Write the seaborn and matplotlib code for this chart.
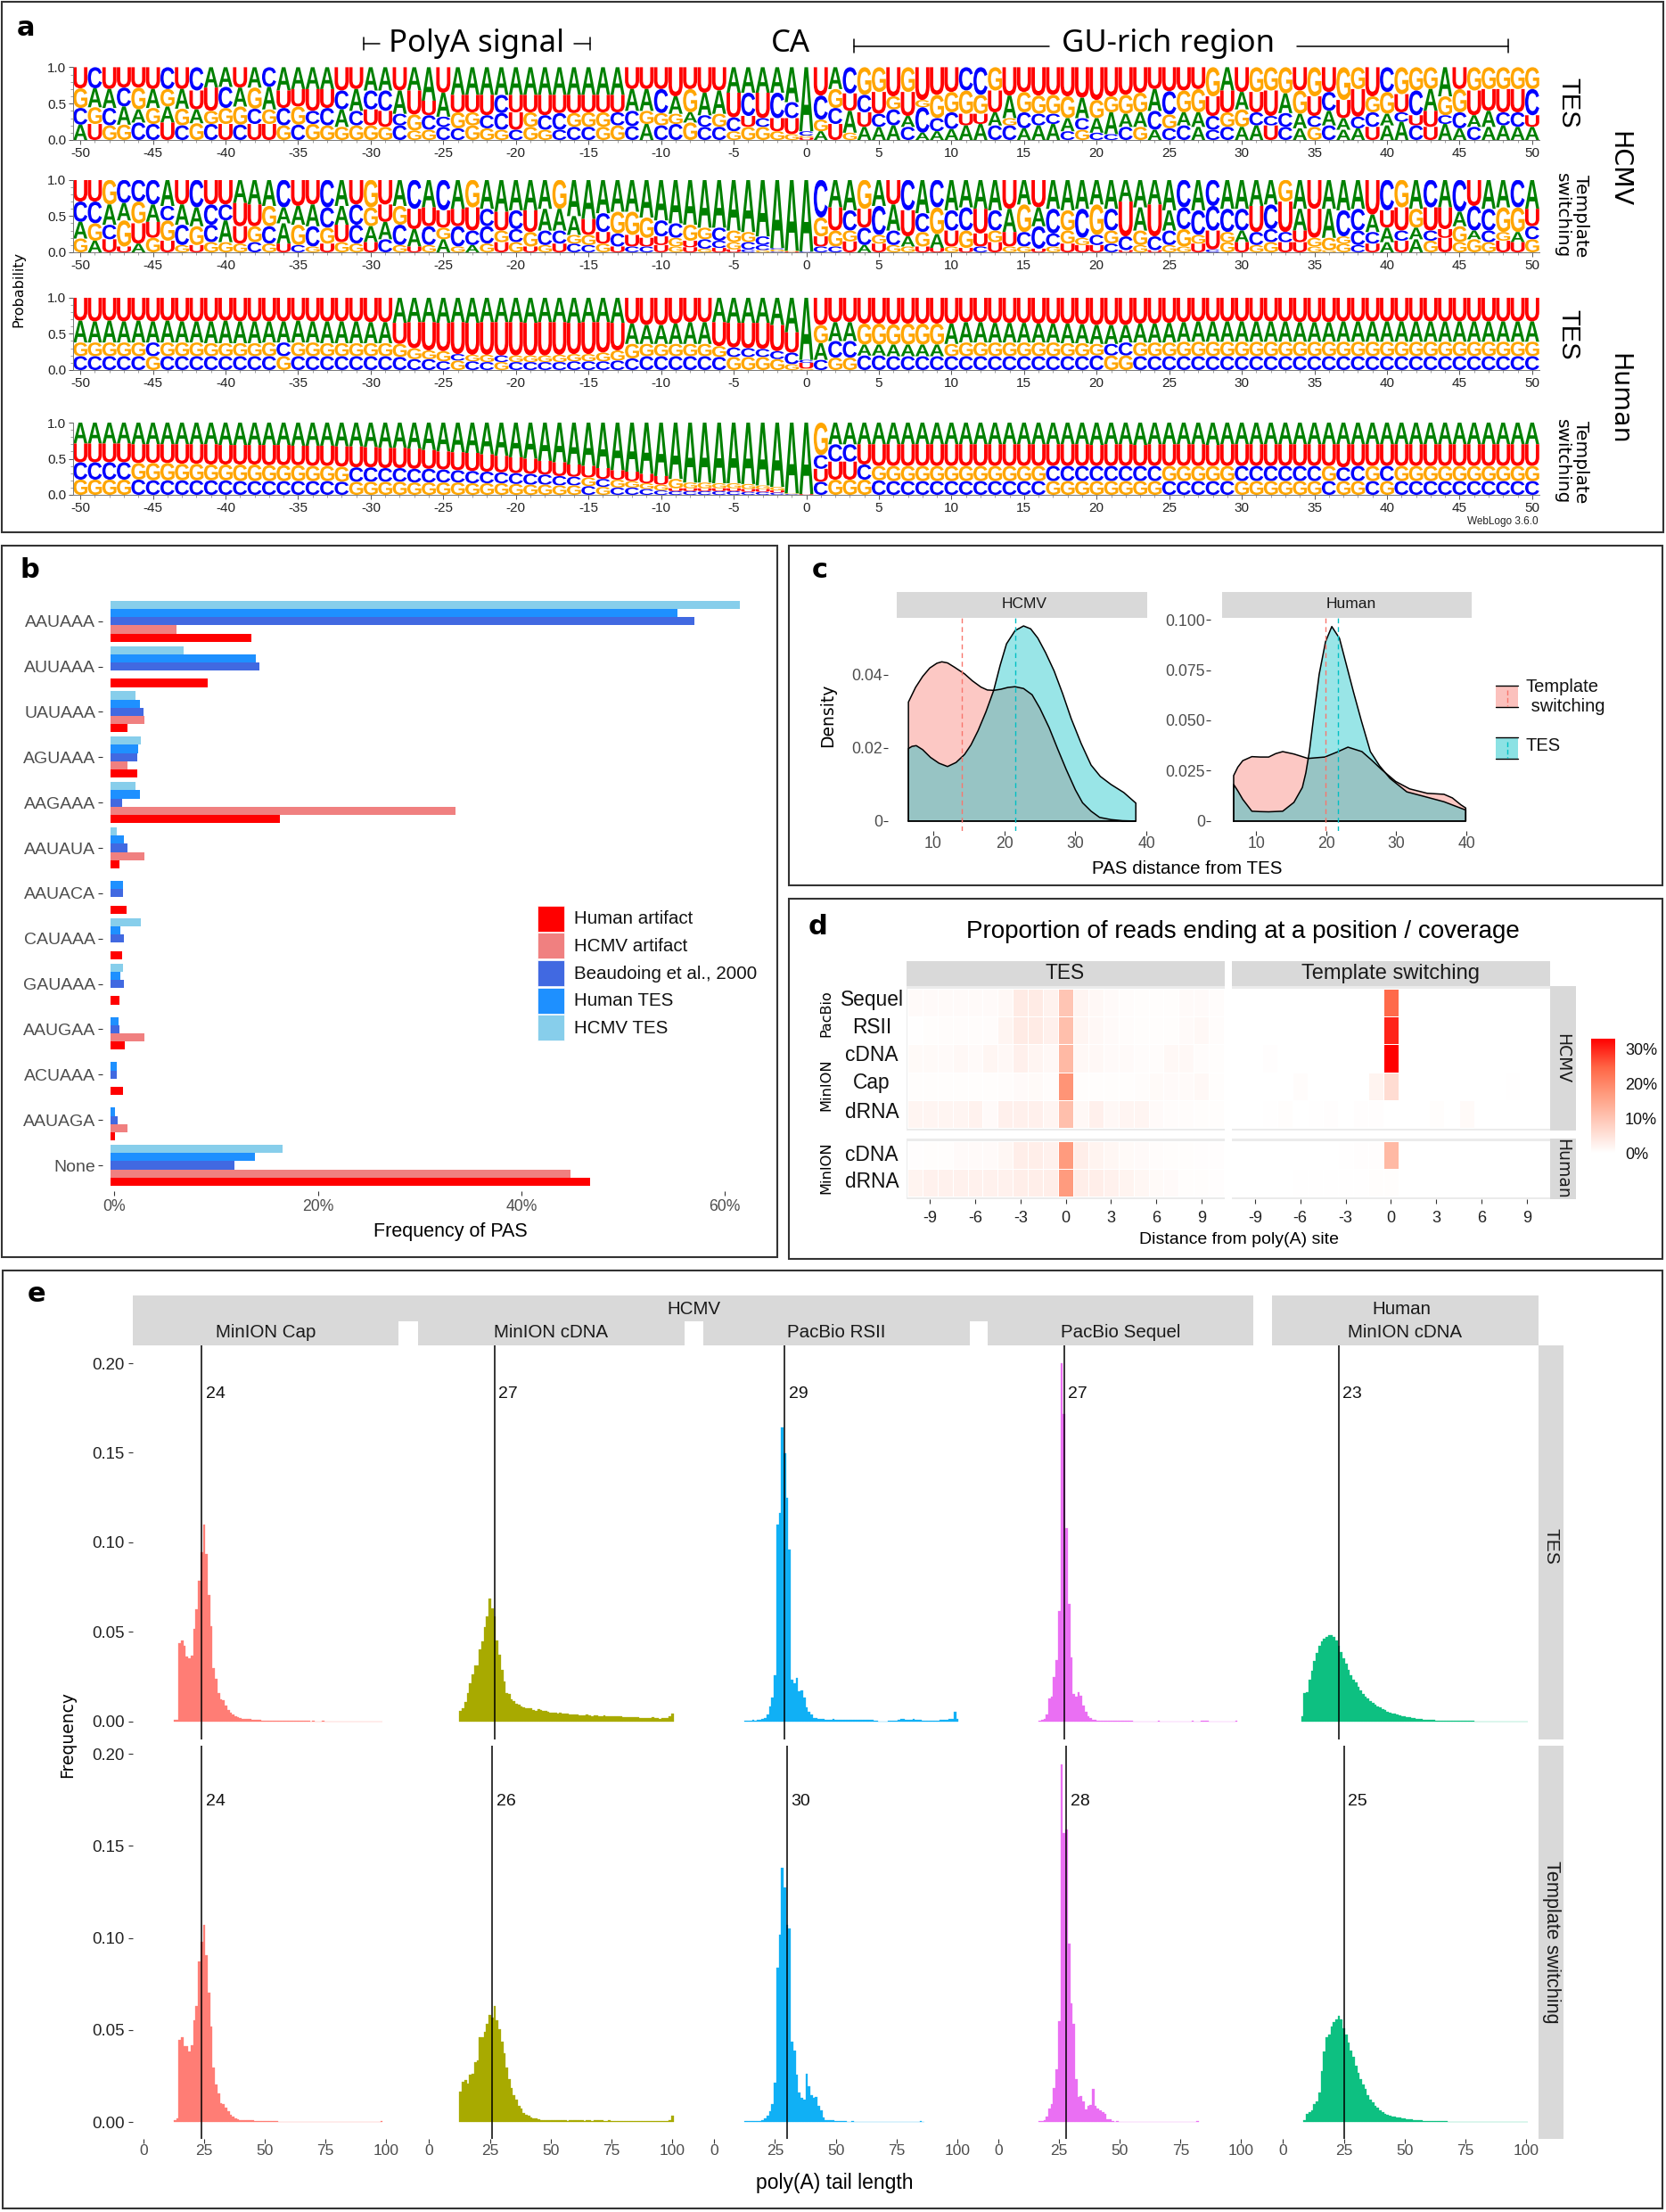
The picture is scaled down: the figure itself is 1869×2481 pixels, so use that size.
#!/usr/bin/env python3
"""Sequence logos, PAS frequency, PAS distance, read-end heatmap and poly(A) tail panels."""

import numpy as np
import pandas as pd
import matplotlib
matplotlib.use("Agg")
import matplotlib.pyplot as plt
import seaborn as sns
from matplotlib.colors import LinearSegmentedColormap
from matplotlib.font_manager import FontProperties
from matplotlib.patches import PathPatch, Rectangle
from matplotlib.textpath import TextPath
from matplotlib.transforms import Affine2D

W, H = 1869, 2481

# ---- panel a: letters per rank (top of the stack first), positions -50..50
R1_RANK1 = "UCUUUUCUC" + "AAUAC" + "AAAA" + "UU" + "AA" + "U" + "AA" + "U" + "A" * 12 + "U" * 7 + "A" * 6 + "UACGGUGUUUCCG" + "U" * 14 + "GAUGGGUGUGGUCGGGAUGGGGG"
R1_RANK2 = "GAACGAGAUU" + "CAGAUUUUCA" + "CCAUUA" + "UUUCUUUUUUUU" + "AACAGAAUCUC" + "CC" + "C" + "GUCUGUGGGG" + "GUAGGGGAGG" + "GGACGGUUAU" + "UAGUCUUGGU" + "CAGGUUUUC"
R1_RANK3 = "CGCAAGAGAG" + "GGCGCGCCAC" + "UUCGCCGGCC" + "UGCCGGGCCG" + "GGACG" + "CUCUUG" + "G" + "CAUCCACCCU" + "UAGCCCACAA" + "AACGAACGGC" + "CCACAACCAC" + "UUCCAACCU"
R1_RANK4 = "AUGGCCUCGC" + "UCUUGCGGGG" + "GGCGGCCGGG" + "CGGCCCGGCA" + "CCGCCGGGGG" + "U" + "A" + "UGAAACAAAA" + "ACCAAACGCC" + "CGACCACCAA" + "UCAGCAAUAA" + "CUAACAAAA"

R2_RANK1 = "UUGCCCAUCU" + "UAAACUUCAU" + "GUACACAGAA" + "AAAG" + "A" * 17 + "CAAGAUCAC" + "AAAA" + "UAU" + "A" * 9 + "CAC" + "AAAA" + "GAU" + "AAA" + "UCGACACUAACA"
R2_RANK2 = "CCAAGACAAC" + "CUUGAAACAC" + "GUGUUUUUCU" + "CUAAAUCGGG" + "CCGGCGGCCG" + "G" + "G" + "UCUCAUCGCC" + "UCAGACGCGC" + "UAUACCCCCU" + "CUAUACCAUU" + "GUUACCGGU"
R2_RANK3 = "AGCGUUGCGC" + "AUGCAGCGUC" + "AACACGCCCG" + "CGCCGGUCUU" + "UGUCCGCCGU" + "C" + "U" + "GGCGCAGAUG" + "UGUCCCGGCG" + "CGCCGGUGAC" + "CCUGGGCCAC" + "ACUGACGAC"
R2_RANK4 = "GAUUAGUGUG" + "GGCGUCGUGG" + "UCGUGAGAGU" + "GUGUCCGUCC" + "UGUGUUCGCC" + "G" + "C" + "CUAUGGUUGU" + "CUGGUGUUUC" + "UGUGGUCGUG" + "GUUGGGCUAU" + "AGUGGGUUG"

R3_RANK1 = "U" * 22 + "A" * 16 + "U" * 6 + "A" * 7 + "U" * 50
R3_RANK2 = "A" * 22 + "U" * 16 + "A" * 6 + "U" * 6 + "C" + "G" + "AA" + "G" * 6 + "A" * 41
R3_RANK3 = "GGGGGC" + "G" * 8 + "C" + "G" * 11 + "C" + "GGC" + "G" * 15 + "C" * 5 + "U" + "A" + "CC" + "A" * 6 + "G" * 11 + "CC" + "G" * 28
R3_RANK4 = "CCCCCG" + "C" * 8 + "G" + "C" * 11 + "G" + "CCG" + "C" * 15 + "G" * 6 + "C" + "GG" + "C" * 17 + "GG" + "C" * 28

R4_RANK1 = "A" * 51 + "G" + "A" * 49
R4_RANK2 = "U" * 41 + "G" * 10 + "CCC" + "U" * 47
R4_RANK3 = "C" * 4 + "G" * 15 + "C" * 16 + "GC" + "GGGG" + "U" * 10 + "UUU" + "C" + "G" * 12 + "C" * 8 + "G" * 5 + "C" * 6 + "G" + "CC" + "G" + "C" + "G" * 10
R4_RANK4 = "G" * 4 + "C" * 15 + "G" * 16 + "CG" + "CCCC" + "C" * 10 + "C" + "GGG" + "C" * 12 + "G" * 8 + "C" * 5 + "G" * 6 + "C" + "GG" + "C" + "G" + "C" * 10

# cumulative probability (%) under rank 1, rank 2 and rank 3
R1_B2 = [71, 71, 70, 72, 72, 70, 70, 70, 68, 72, 73, 72, 72, 73, 68, 70, 70, 70, 68, 70, 68, 68, 68, 68, 54, 65, 62, 62, 62, 62, 62, 62, 62, 62, 62, 62, 62, 62, 70, 70, 70, 60, 70, 65, 68, 65, 65, 65, 65, 52, 12,
         61, 70, 64, 62, 66, 60, 66, 55, 62, 66, 68, 62, 68, 61, 66, 61, 62, 60, 58, 55, 60, 62, 65, 70, 67, 68, 70, 60, 68, 66, 66, 68, 64, 68, 60, 66, 55, 70, 60, 66, 63, 68, 70, 60, 70, 68, 70, 70, 70, 70]
R1_B3 = [44, 45, 44, 46, 42, 44, 46, 43, 42, 40, 44, 46, 43, 42, 44, 46, 40, 44, 42, 40, 42, 40, 36, 35, 34, 32, 38, 38, 34, 37, 38, 38, 34, 37, 37, 38, 38, 38, 40, 40, 37, 36, 38, 34, 36, 31, 33, 30, 30, 30, 6,
         28, 44, 40, 38, 36, 42, 33, 45, 30, 38, 36, 36, 38, 30, 38, 36, 36, 30, 30, 30, 38, 36, 38, 40, 35, 38, 38, 33, 38, 42, 38, 33, 37, 36, 33, 40, 30, 32, 38, 36, 38, 34, 40, 34, 38, 34, 40, 38, 38, 34]
R1_B4 = [21, 22, 20, 21, 24, 22, 24, 20, 23, 22, 22, 21, 22, 22, 20, 21, 22, 20, 18, 20, 20, 18, 20, 13, 14, 18, 16, 20, 16, 14, 14, 18, 14, 14, 18, 18, 18, 20, 19, 22, 20, 22, 24, 18, 18, 12, 18, 18, 12, 8, 3,
         12, 22, 10, 18, 18, 20, 18, 10, 12, 15, 20, 22, 20, 20, 16, 20, 22, 12, 14, 10, 8, 18, 18, 14, 16, 20, 18, 14, 18, 18, 20, 20, 18, 16, 18, 20, 14, 16, 18, 20, 25, 20, 18, 22, 16, 18, 18, 20, 18, 18]

R2_B2 = [70, 70, 66, 68, 70, 66, 64, 66, 62, 66, 66, 68, 66, 64, 62, 64, 66, 62, 64, 66, 62, 66, 64, 60, 62, 58, 60, 62, 60, 56, 58, 58, 60, 60, 50, 46, 54, 56, 56, 48, 44, 40, 38, 34, 34, 30, 28, 22, 6, 2, 1,
         48, 62, 58, 60, 64, 66, 58, 54, 62, 58, 62, 60, 58, 60, 66, 62, 60, 58, 60, 66, 60, 70, 62, 66, 58, 62, 58, 64, 60, 60, 64, 66, 70, 60, 60, 60, 58, 60, 52, 58, 62, 60, 62, 62, 56, 64, 60, 62, 62, 60]
R2_B3 = [42, 40, 38, 44, 40, 42, 44, 38, 36, 38, 44, 36, 36, 36, 40, 38, 36, 34, 38, 38, 36, 42, 38, 32, 36, 34, 36, 30, 36, 30, 32, 28, 30, 30, 24, 24, 28, 26, 24, 20, 22, 20, 16, 18, 16, 14, 14, 10, 4, 1, 1,
         22, 30, 30, 34, 24, 30, 22, 28, 25, 30, 30, 26, 30, 28, 28, 36, 26, 30, 20, 24, 30, 22, 30, 22, 30, 32, 24, 30, 28, 30, 28, 32, 28, 30, 20, 20, 22, 30, 28, 34, 30, 34, 30, 32, 36, 30, 30, 28, 28, 36]
R2_B4 = [19, 16, 18, 8, 12, 20, 16, 10, 10, 14, 14, 12, 14, 12, 12, 10, 8, 12, 14, 12, 14, 18, 10, 8, 10, 18, 8, 10, 12, 14, 14, 8, 10, 12, 12, 10, 12, 8, 8, 8, 10, 8, 7, 5, 6, 4, 4, 3, 1, 0, 0,
         8, 8, 15, 10, 12, 10, 8, 8, 6, 8, 6, 8, 14, 8, 8, 5, 8, 12, 10, 10, 12, 3, 10, 3, 10, 8, 12, 4, 14, 14, 10, 14, 14, 14, 8, 3, 12, 10, 12, 14, 16, 18, 16, 20, 14, 18, 14, 16, 14, 18]

R3_B2 = [68, 67, 68, 67, 68, 67, 68, 67, 67, 67, 68, 67, 67, 67, 67, 68, 67, 67, 67, 67, 66, 66, 65, 66, 66, 65, 66, 65, 66, 66, 66, 65, 66, 66, 65, 66, 66, 65, 64, 62, 62, 64, 66, 66, 66, 65, 65, 65, 62, 52, 14,
         62, 66, 66, 64, 64, 63, 64, 64, 64, 64, 66, 66, 65, 65, 65, 64, 64, 64, 63, 62, 62, 62, 64, 64, 65, 66, 67, 67, 67, 67, 67, 67, 67, 66, 66, 66, 67, 67, 67, 67, 67, 67, 67, 67, 67, 67, 67, 67, 67, 67]
R3_B3 = [38, 38, 38, 38, 38, 38, 38, 38, 38, 37, 37, 37, 37, 38, 38, 38, 38, 37, 37, 37, 37, 37, 36, 30, 27, 26, 22, 21, 21, 20, 20, 20, 20, 21, 22, 22, 24, 27, 36, 36, 36, 36, 36, 36, 33, 31, 30, 29, 26, 24, 10,
         37, 40, 40, 35, 35, 35, 35, 35, 35, 36, 38, 38, 38, 38, 38, 38, 38, 37, 37, 36, 36, 38, 38, 38, 38, 39, 39, 39, 39, 39, 39, 39, 39, 39, 39, 39, 39, 39, 39, 39, 39, 39, 39, 39, 39, 39, 39, 39, 39, 39]
R3_B4 = [19, 19, 19, 19, 19, 19, 19, 19, 19, 19, 19, 19, 19, 19, 19, 19, 19, 19, 19, 19, 19, 19, 18, 15, 15, 12, 13, 12, 11, 11, 11, 11, 11, 11, 12, 12, 12, 13, 16, 19, 19, 19, 19, 19, 18, 18, 18, 18, 15, 8, 2,
         14, 17, 17, 20, 20, 19, 19, 19, 19, 19, 19, 19, 19, 19, 19, 19, 19, 19, 19, 20, 20, 20, 19, 19, 19, 19, 19, 19, 19, 19, 19, 19, 19, 19, 19, 19, 19, 19, 19, 19, 19, 19, 19, 19, 19, 19, 19, 19, 19, 19]

R4_B2 = [71, 71, 71, 71, 70, 70, 70, 70, 70, 70, 69, 69, 69, 69, 69, 68, 68, 68, 67, 67, 66, 65, 65, 64, 62, 60, 59, 58, 56, 54, 52, 50, 47, 45, 42, 40, 37, 34, 32, 29, 26, 22, 17, 17, 16, 16, 15, 13, 11, 2, 1,
         55, 70, 70, 70, 70, 70, 70, 70, 70, 70, 70, 70, 70, 70, 70, 70, 70, 70, 70, 69, 70, 70, 69, 70, 70, 70, 70, 69, 70, 70, 70, 70, 70, 70, 70, 70, 70, 70, 70, 70, 70, 70, 70, 70, 70, 70, 70, 70, 70, 70]
R4_B3 = [45, 45, 45, 45, 44, 44, 44, 43, 43, 42, 42, 42, 42, 41, 41, 41, 40, 40, 39, 38, 38, 37, 37, 36, 36, 35, 34, 33, 32, 31, 30, 29, 28, 26, 25, 24, 22, 21, 19, 16, 14, 9, 9, 9, 9, 9, 8, 8, 6, 1, 1,
         36, 46, 46, 42, 40, 40, 40, 40, 40, 40, 40, 40, 40, 40, 40, 40, 40, 40, 40, 40, 40, 40, 40, 40, 40, 40, 40, 40, 40, 40, 40, 40, 40, 40, 40, 40, 38, 40, 40, 40, 40, 40, 40, 40, 40, 40, 40, 40, 40, 40]
R4_B4 = [21, 21, 21, 21, 21, 20, 20, 20, 20, 20, 20, 19, 19, 19, 19, 19, 19, 19, 18, 18, 18, 18, 18, 17, 17, 17, 17, 16, 16, 16, 15, 14, 14, 13, 13, 12, 11, 10, 10, 8, 6, 5, 5, 5, 5, 5, 4, 4, 3, 1, 0,
         18, 21, 21, 21, 20, 19, 19, 19, 19, 19, 19, 19, 19, 19, 19, 19, 19, 19, 19, 19, 19, 19, 19, 19, 19, 19, 19, 19, 19, 19, 19, 19, 19, 19, 19, 19, 19, 19, 19, 19, 19, 19, 19, 19, 19, 19, 19, 19, 19, 19]

# ---- panel b
PAS_MOTIFS = ["AAUAAA", "AUUAAA", "UAUAAA", "AGUAAA", "AAGAAA", "AAUAUA", "AAUACA", "CAUAAA", "GAUAAA", "AAUGAA", "ACUAAA", "AAUAGA", "None"]
PAS_HCMV_TES = [61.6, 7.2, 2.45, 3.0, 2.45, 0.6, 0, 3.0, 1.2, 0, 0, 0, 16.8]
PAS_HUMAN_TES = [55.5, 14.2, 2.9, 2.75, 2.85, 1.3, 1.2, 1.0, 1.0, 0.75, 0.6, 0.4, 14.1]
PAS_BEAUDOING = [57.1, 14.6, 3.2, 2.65, 1.1, 1.7, 1.2, 1.3, 1.3, 0.85, 0.6, 0.7, 12.1]
PAS_HCMV_ART = [6.45, 0, 3.3, 1.65, 33.8, 3.3, 0, 0, 0, 3.3, 0, 1.65, 45.0]
PAS_HUMAN_ART = [13.8, 9.5, 1.7, 2.6, 16.6, 0.9, 1.6, 1.1, 0.9, 1.4, 1.2, 0.4, 46.9]

# ---- panel c
C_HCMV_TS_X = [6.5, 7.5, 8.5, 9.5, 10.5, 11.2, 12, 13, 14.4, 15.5, 16.7, 17.6, 18.5, 19.5, 20.5, 21.5, 22.7, 23.9, 25, 26.3, 27.5, 28.7, 30, 31, 32.2, 33.4, 35, 36.6, 38.5]
C_HCMV_TS_Y = [.0325, .0365, .0395, .0418, .0431, .0435, .0432, .042, .0402, .0383, .0366, .0358, .0357, .036, .0365, .0367, .0362, .0345, .0308, .0255, .0197, .0141, .0085, .005, .0027, .001, .0004, .0001, 0]
C_HCMV_TES_X = [6.5, 7, 7.6, 8.5, 9.6, 10.8, 12, 13.2, 14.4, 15.3, 16.3, 17.4, 18.5, 19.4, 20.3, 21.5, 22.7, 23.7, 24.7, 25.8, 27, 28.2, 29.4, 30.8, 32.2, 33.5, 35, 36.8, 38.5]
C_HCMV_TES_Y = [.0198, .0204, .0206, .0195, .0174, .0158, .0149, .016, .0182, .0208, .0247, .0298, .0357, .0425, .0484, .052, .0533, .0525, .05, .046, .041, .0348, .028, .0212, .0153, .0122, .01, .0078, .0049]
C_HUMAN_TS_X = [6.8, 7.4, 8.1, 9.4, 10.6, 11.8, 12.8, 13.8, 15.4, 17.4, 19.8, 21.5, 23.1, 25.1, 26.5, 27.9, 29.9, 31.9, 34.4, 36.8, 38, 39.2, 39.9]
C_HUMAN_TS_Y = [.0226, .0268, .03, .032, .0318, .0318, .0335, .0345, .0333, .0311, .0318, .0342, .0367, .0345, .0302, .0256, .0197, .016, .0138, .0133, .0115, .0081, .0065]
C_HUMAN_TES_X = [6.8, 7.4, 8.1, 9.4, 10.6, 11.8, 13.8, 15.4, 16.6, 17.1, 17.6, 18.3, 19, 19.9, 20.8, 21.9, 23, 23.9, 25, 26.3, 27.6, 29.1, 31.5, 33.9, 36.8, 39.2, 39.9]
C_HUMAN_TES_Y = [.0182, .015, .0108, .0049, .0047, .0046, .0049, .0093, .0167, .024, .0345, .054, .0729, .089, .0966, .0907, .076, .064, .05, .0345, .0275, .0212, .0145, .0123, .0096, .0064, .0055]
C_MEDIANS = {"HCMV": (14.05, 21.5), "Human": (19.85, 21.7)}

# ---- panel d, values in % for positions -10..10
HM_POS = list(range(-10, 11))
TES_SEQUEL = [.8, .8, .8, .8, .8, .8, 1.2, 3.5, 3.5, 2.2, 10, 1.8, 1.2, .8, .6, .4, .4, .4, .8, .8, .6]
TES_RSII = [.2, .5, .6, .6, .6, .6, 1.8, 3.5, 3.5, 2.6, 11, 1.8, 1.2, .8, .6, .4, .4, .4, .8, 1.2, .6]
TES_CDNA = [1, 1, .8, 1.2, .8, 1.6, 1.2, 2.6, 1.8, 1.2, 12, 1.2, 1.2, .8, .8, .6, .6, 1.2, 1.2, .6, .4]
TES_CAP = [.4, .4, .4, .4, .4, .5, .6, .8, 1, .6, 18, .4, .4, .4, .4, .6, 1, .8, .8, 1.2, .4]
TES_DRNA = [1.8, 1.8, 1.8, 1.8, 2.2, .8, 2.6, 2.6, 2.6, 1.8, 11, 1.2, 2.6, 1.2, 1.8, 1.8, .8, .6, .6, .5, .4]
TES_H_CDNA = [.3, .4, .5, .8, .8, .9, 1.5, 3, 3, 2.5, 17, 3, 2, 1.5, 1, .8, .6, .5, .4, .3, .3]
TES_H_DRNA = [2, 2.5, 2.5, 2.5, 2.5, 2.5, 2.5, 3, 3, 3, 17, 3, 3, 2.5, 2, 1.5, 1, .8, .5, .4, .3]
TS_SEQUEL = [0, 0, 0, 0, 0, 0, 0, 0, 0, 0, 24, 0, 0, 0, 0, 0, 0, 0, 0, 0, 0]
TS_RSII = [0, 0, 0, 0, 0, 0, 0, 0, 0, 0, 30, 0, 0, 0, 0, 0, 0, 0, 0, 0, 0]
TS_CDNA = [0, 0, .3, 0, 0, 0, 0, 0, 0, 0, 33, 0, 0, 0, 0, 0, 0, 0, 0, 0, 0]
TS_CAP = [0, 0, 0, 0, .6, 0, 0, 0, 0, 2, 6, 0, 0, 0, 0, 0, 0, 0, .2, 0, 0]
TS_DRNA = [0, .1, .2, .5, .1, .2, .3, .1, .3, .3, .1, .1, .1, .4, .1, 1, 0, 0, 0, 0, 0]
TS_H_CDNA = [0, 0, 0, 0, 0, 0, 0, .2, .3, .3, 12, 0, 0, 0, 0, 0, 0, 0, 0, 0, 0]
TS_H_DRNA = [0, 0, 0, 0, .2, .2, .2, .2, .2, .5, .5, 0, 0, 0, 0, 0, 0, 0, 0, 0, 0]
HM_TICKS = [-9, -6, -3, 0, 3, 6, 9]

# ---- panel e, bin values start at the named first bin
CAP_TES_FIRST = 13
CAP_TES = [.001, .001, .0436, .0454, .0424, .036, .0352, .0365, .0516, .0626, .0786, .0947, .11, .0934, .0705, .053, .0297, .0237, .016, .0125, .0116, .0089, .0062, .005, .0039, .003, .0025, .002, .0015, .0014, .0012, .0012, .001, .0009, .0008, .0007, .0006, .0006,
           .0005, .0005, .0004, .0004, .0003, .0003, .0003, .0003, .0002, .0002, .0002, .0002, .0002, .0002, .0002, .0002, .0002, .0002, .0001, .0002, .0001, .0001, .0001, .0002, .0001, .0001, .0001, .0001, .0001, .0001, .0001, .0001, .0001, .0001, .0001, .0001, 0, .0001, .0001, 0, .0001, .0001, 0, .0001, 0, .0001, 0, .0001]
CDNA_TES_FIRST = 13
CDNA_TES = [.0059, .0075, .0107, .016, .0214, .0262, .0311, .0311, .04, .0445, .0525, .0587, .0685, .0632, .0587, .0454, .0374, .0285, .0222, .016, .0151, .0125, .0112, .0098, .0093, .0085, .0078, .0075, .0071, .0071, .0062, .006, .0068,
            .0062, .0058, .0056, .0052, .005, .005, .0046, .0045, .0046, .0044, .0042, .0043, .004, .0038, .0037, .0036, .0035, .0034, .0033, .0036, .0032, .003, .0034, .0032, .003, .0028, .0031, .0029, .0027, .0026, .0026, .0028, .0027, .0026, .0024, .0024, .0023, .0024, .0022, .0022, .0024, .0021, .002, .002, .0019, .0019, .0022, .0019, .0017, .0016, .0017, .002, .002, .0028, .0045]
RSII_TES_FIRST = 13
RSII_TES = [.0005, .0005, .0006, .0007, .0006, .0008, .001, .0012, .002, .004, .0085, .0133, .0258, .11, .1165, .164, .1495, .1246, .0961, .0231, .0214, .0244, .0169, .0173, .0133, .008, .0053, .0036, .0021, .0018, .0014,
            .0012, .0012, .0011, .001, .0011, .0012, .001, .001, .0011, .001, .0009, .001, .001, .0009, .0009, .0008, .0008, .0009, .0008, .0007, .0008, .0008, .0006, .0005, 0, 0, 0, 0,
            .0004, .0006, .0005, .0006, .0007, .0012, .0012, .001, .0008, .001, .0012, .001, .001, .0008, .0006, .0005, .0005, .0006, .0005, .0005, .0006, .0007, .0007, .0008, .001, .0012, .0015, .0053, .0015]
SEQUEL_TES_FIRST = 17
SEQUEL_TES = [.0005, .0008, .0015, .0036, .0128, .0139, .0246, .0342, .0614, .2, .1717, .1077, .0658, .0356, .0151, .0139, .0164, .0142, .0089, .0053, .0027, .0018, .0011, .0009, .0006, .0006, .0005, .0005, .0004, .0004, .0004, .0003, .0003, .0003, .0003, .0003, .0002, .0002, .0002,
              0, 0, 0, 0, 0, 0, 0, 0, 0, 0, .0002, 0, 0, 0, 0, 0, 0, 0, 0, 0, 0, 0, 0, 0, .0002, 0, 0, 0, .0003, .0003, .0002, 0, 0, 0, 0, 0, 0, 0, 0, 0, 0, 0, .0003]
HUMAN_TES_FIRST = 8
HUMAN_TES = [.0027, .016, .0165, .0235, .028, .0335, .038, .042, .0445, .046, .047, .048, .048, .047, .045, .042, .0385, .035, .032, .0285, .0258, .0235, .022, .0195, .0175, .0155, .014, .0127, .0113, .0102, .0095, .0085, .0076, .0069, .0062, .0055, .005, .0045, .0041, .0036, .0033, .003, .0027, .0025, .0022, .002, .0018, .0016, .0014, .0012, .0011, .001, .0009, .0007, .0007, .0006, .0005, .0005, .0004, .0004, .0004, .0003, .0003, .0003, .0003, .0002, .0002, .0002, .0002, .0002, .0002, .0001, .0001, .0001, .0001, .0001, .0001, .0001, .0001, .0001, .0001, .0001, .0001, .0001, .0001, .0001, .0001, .0001, .0001, .0001, .0001, .0001, .0001]

CAP_TS_FIRST = 13
CAP_TS = [.0011, .002, .0445, .0461, .0413, .0413, .0385, .0416, .055, .0631, .0874, .0979, .1073, .0906, .0704, .0518, .0294, .0202, .0154, .01, .0097, .0076, .0057, .004, .003, .002, .0015, .0012, .0012, .001, .0009, .0008, .0008, .0007, .0006, .0006, .0005, .0005, .0004,
          .0004, .0003, .0003, .0003, .0002, .0002, .0002, .0002, .0002, .0002, .0002, .0001, .0002, .0001, .0001, .0001, .0001, .0001, .0001, .0001, .0001, 0, .0001, .0001, 0, 0, .0001, 0, .0001, 0, .0001, 0, .0001, 0, .0001, 0, 0, .0001, 0, 0, 0, 0, 0, 0, 0, 0, .0004]
CDNA_TS_FIRST = 13
CDNA_TS = [.0167, .0218, .023, .021, .0259, .0264, .0324, .0332, .0461, .0461, .049, .0534, .0583, .0566, .0631, .055, .0502, .0437, .0372, .0294, .0235, .0186, .0146, .0121, .0089, .0073, .0049, .004, .0032, .0024, .002, .0018, .0014, .0012,
           .0011, .001, .0009, .001, .0009, .0008, .0009, .0008, .0009, .0008, .0007, .0009, .0008, .001, .0009, .001, .0008, .0007, .0008, .0008, .0007, .0008, .0009, .0008, .0008, .0007, .0007, .0009, .0007, .0006, .0007, .0007, .0006, .0007, .0006, .0006, .0006, .0007, .0006, .0005, .0005, .0005, .0006, .0005, .0005, .0006, .0005, .0005, .0006, .0007, .0006, .0006, .0008, .0032]
RSII_TS_FIRST = 13
RSII_TS = [.0003, .0003, .0003, .0003, .0004, .0005, .0006, .0008, .002, .0032, .0057, .0097, .0214, .0838, .1016, .138, .1273, .1071, .1049, .0437, .0388, .0259, .0162, .0129, .0121, .0262, .0194, .0146, .0129, .0138, .0089, .0065, .0025, .0012, .0012, .0012, .0008, .0005, .0003, .0006, .0005, .0003, .0002, .0002, .0003, .0002, .0002, .0002,
           .0002, .0001, .0001, 0, .0001, .0002, .0002, .0001, 0, .0002, .0002, .0001, 0, .0001, .0002, .0001, 0, 0, 0, .0001, .0001, 0, 0, .0002, .0004, .0001]
SEQUEL_TS_FIRST = 17
SEQUEL_TS = [.0003, .0003, .0008, .0028, .0073, .0097, .0186, .0286, .0547, .1945, .157, .159, .0971, .0644, .0531, .0235, .0138, .0142, .0113, .0068, .0089, .0092, .0178, .0089, .0073, .0061, .0052, .0045, .0016, .0013, .0003, 0, .0003, .0002, 0, .0002,
             0, 0, 0, 0, 0, 0, 0, 0, 0, 0, 0, 0, 0, 0, 0, 0, 0, 0, 0, 0, 0, 0, 0, 0, 0, 0, 0, 0, 0, .0003]
HUMAN_TS_FIRST = 9
HUMAN_TS = [.0011, .0045, .0052, .0065, .0097, .0113, .0162, .0275, .0385, .0461, .0477, .0518, .0542, .0558, .0578, .0558, .051, .0477, .0429, .0388, .0356, .0307, .0267, .0235, .0202, .0178, .0146, .0121, .0105, .0089, .0078, .0065, .0052, .0045, .0039, .0034, .0031, .0028, .0024, .0023, .0019, .0018, .0016, .0014, .0013, .0012, .001, .0009, .0008, .0007, .0007, .0006, .0005, .0005, .0004, .0004, .0003, .0003, .0003, .0002, .0002, .0002, .0002, .0002, .0001, .0001, .0001, .0001, .0001, .0001, .0001, .0001, .0001, .0001, .0001, .0001, .0001, .0001, .0001, .0001, .0001, .0001, .0001, .0001, .0001, .0001, .0001, .0001, .0001, .0001, .0001, .0001]

HIST_LABELS = ["MinION Cap", "MinION cDNA", "PacBio RSII", "PacBio Sequel", "MinION cDNA"]
HIST_MEDIAN_TES = [24, 27, 29, 27, 23]
HIST_MEDIAN_TS = [24, 26, 30, 28, 25]

sns.set_theme(style="white")
plt.rcParams["font.family"] = ["Liberation Sans", "DejaVu Sans"]
plt.rcParams["axes.unicode_minus"] = False

fig = plt.figure(figsize=(W / 100, H / 100), dpi=100, facecolor="white")

# Top layer in pixel coordinates, for frames, strips and free labels
top = fig.add_axes([0, 0, 1, 1], zorder=10)
top.set_xlim(0, W)
top.set_ylim(H, 0)
top.axis("off")

STRIP = "#D9D9D9"
TICK_GREY = "#4D4D4D"


def px_ax(left, upper, right, lower):
    ax = fig.add_axes([left / W, 1 - lower / H, (right - left) / W, (lower - upper) / H])
    ax.patch.set_visible(False)
    return ax


def label(x, y, s, size, color="black", ha="center", va="center", rotation=0, family=None, weight="normal"):
    kw = {"family": family} if family else {}
    top.text(x, y, s, fontsize=size, color=color, ha=ha, va=va, rotation=rotation, weight=weight, **kw)


def box(x0, y0, x1, y1, **kw):
    top.add_patch(Rectangle((x0, y0), x1 - x0, y1 - y0, **kw))


def strip(x0, y0, x1, y1):
    box(x0, y0, x1, y1, fc=STRIP, ec="none")


for frame in [(2, 2, 1866, 597), (2, 612, 872, 1410), (885, 612, 1865, 993), (885, 1008, 1865, 1412), (3, 1425, 1865, 2477)]:
    box(frame[0], frame[1], frame[2], frame[3], fill=False, ec="#333333", lw=1.5)

for name, x, y in [("a", 29, 31), ("b", 33, 639), ("c", 920, 640), ("d", 918, 1040), ("e", 41, 1451)]:
    label(x, y, name, 22, family="DejaVu Sans", weight="bold")

# ---- panel a
LOGO_FONT = FontProperties(family="Liberation Sans", weight="bold")
LOGO_COLORS = {"A": "#008000", "U": "#FF0000", "C": "#0000FF", "G": "#FFA500"}
POSITIONS = np.arange(-50, 51)


def draw_letter(ax, letter, x, y0, y1):
    if y1 - y0 <= 0:
        return
    path = TextPath((0, 0), letter, size=1, prop=LOGO_FONT)
    ext = path.get_extents()
    tr = Affine2D().translate(-ext.x0, -ext.y0).scale(0.97 / ext.width, (y1 - y0) / ext.height).translate(x - 0.485, y0)
    ax.add_patch(PathPatch(path, transform=tr + ax.transData, fc=LOGO_COLORS[letter], ec="none", lw=0))


LOGO_ROWS = [
    ((R1_RANK1, R1_RANK2, R1_RANK3, R1_RANK4), (R1_B2, R1_B3, R1_B4), 75.4, 157),
    ((R2_RANK1, R2_RANK2, R2_RANK3, R2_RANK4), (R2_B2, R2_B3, R2_B4), 201.7, 283),
    ((R3_RANK1, R3_RANK2, R3_RANK3, R3_RANK4), (R3_B2, R3_B3, R3_B4), 333.7, 415),
    ((R4_RANK1, R4_RANK2, R4_RANK3, R4_RANK4), (R4_B2, R4_B3, R4_B4), 474, 555),
]

for ranks, levels, y_top, y_bot in LOGO_ROWS:
    ax = px_ax(82, y_top, 1727, y_bot)
    b2, b3, b4 = levels
    for i, pos in enumerate(POSITIONS):
        edges = [100, b2[i], b3[i], b4[i], 0]
        for r in range(4):
            draw_letter(ax, ranks[r][i], pos, edges[r + 1] / 100, edges[r] / 100)
    ax.set_xlim(-50.5, 50.5)
    ax.set_ylim(0, 1)
    ax.set_xticks(np.arange(-50, 51, 5))
    ax.set_xticks(POSITIONS, minor=True)
    ax.set_yticks([0, 0.5, 1])
    ax.set_yticklabels(["0.0", "0.5", "1.0"])
    ax.set_yticks(np.arange(0, 1.01, 0.1), minor=True)
    ax.tick_params(axis="both", which="major", labelsize=11, length=3.5, width=0.7, color="#555555", labelcolor="#222222", pad=2)
    ax.tick_params(axis="both", which="minor", length=2, width=0.5, color="#777777")
    ax.tick_params(axis="x", which="both", bottom=True)
    ax.tick_params(axis="y", which="both", left=True)
    sns.despine(ax=ax)
    for side in ["left", "bottom"]:
        ax.spines[side].set_color("#777777")
        ax.spines[side].set_linewidth(0.7)

label(535, 49, "PolyA signal", 25, family="Noto Sans")
label(887, 49, "CA", 25, family="Noto Sans")
label(1311, 49, "GU-rich region", 25, family="Noto Sans")
for x0, x1, y, h in [(408, 426, 48.6, 7), (644, 662, 48.6, 7), (958, 1177, 51.7, 7.5), (1455, 1692, 51.7, 7.5)]:
    top.plot([x0, x1], [y, y], color="black", lw=1.1)
for x, y, h in [(408, 48.6, 7), (662, 48.6, 7), (958, 51.7, 7.5), (1692, 51.7, 7.5)]:
    top.plot([x, x], [y - h, y + h], color="black", lw=1.1)

label(21, 324, "Probability", 11.5, rotation=90, family="DejaVu Sans")
label(1726, 585, "WebLogo 3.6.0", 8.5, ha="right", color="#222222")
label(1759, 115, "TES", 21, rotation=270)
label(1759, 375, "TES", 21, rotation=270)
label(1763, 242, "Template\nswitching", 14.5, rotation=270, family="DejaVu Sans")
label(1763, 518, "Template\nswitching", 14.5, rotation=270, family="DejaVu Sans")
label(1816, 190, "HCMV", 20.5, rotation=270, family="DejaVu Sans")
label(1816, 447, "Human", 20.5, rotation=270, family="DejaVu Sans")

# ---- panel b
HUE_ORDER = ["HCMV TES", "Human TES", "Beaudoing et al., 2000", "HCMV artifact", "Human artifact"]
PAS_COLORS = {"Human artifact": "#FF0000", "HCMV artifact": "#F08080", "Beaudoing et al., 2000": "#4169E1", "Human TES": "#1E90FF", "HCMV TES": "#87CEEB"}
pas = pd.DataFrame({"motif": PAS_MOTIFS, "HCMV TES": PAS_HCMV_TES, "Human TES": PAS_HUMAN_TES, "Beaudoing et al., 2000": PAS_BEAUDOING,
                    "HCMV artifact": PAS_HCMV_ART, "Human artifact": PAS_HUMAN_ART}).melt(id_vars="motif", var_name="source", value_name="freq")
ax = px_ax(115, 672, 860, 1336)
sns.barplot(data=pas, y="motif", x="freq", hue="source", order=PAS_MOTIFS, hue_order=HUE_ORDER, palette=PAS_COLORS,
            width=0.905, legend=False, saturation=1, linewidth=0, ax=ax)
ax.set_xlim(-0.78, 64.2)
ax.set_ylim(12.57, -0.486)
ax.set_xticks([0.35, 20.35, 40.2, 60.1])
ax.set_xticklabels(["0%", "20%", "40%", "60%"])
ax.set_xlabel("")
ax.set_ylabel("")
ax.tick_params(axis="y", labelsize=14, length=3.5, width=0.8, color="#333333", labelcolor=TICK_GREY, left=True, pad=2)
ax.tick_params(axis="x", labelsize=12.7, length=3.5, width=0.8, color="#333333", labelcolor=TICK_GREY, bottom=True, pad=3)
sns.despine(ax=ax, left=True, bottom=True)
label(505, 1381, "Frequency of PAS", 15.5)
for i, name in enumerate(reversed(HUE_ORDER)):
    y = 1015.6 + i * 30.7
    box(603, y, 633, y + 29, fc=PAS_COLORS[name], ec="white", lw=0.5)
    label(644, y + 15, name, 14.8, ha="left", color="#111111")

# ---- panel c
TS_COLOR = "#F8766D"
TES_COLOR = "#00BFC4"


def density(ax, xs, ys, color):
    px = [xs[0]] + xs + [xs[-1], xs[0]]
    py = [0] + ys + [0, 0]
    ax.fill(px, py, color=color, alpha=0.4, lw=0)
    sns.lineplot(x=px, y=py, sort=False, estimator=None, color="black", lw=1.1, ax=ax)


ax = px_ax(996, 693, 1287, 932)
density(ax, C_HCMV_TS_X, C_HCMV_TS_Y, TS_COLOR)
density(ax, C_HCMV_TES_X, C_HCMV_TES_Y, TES_COLOR)
ax.set_xlim(3.6, 40.1)
ax.set_ylim(-0.0027, 0.0555)
ax.set_yticks([0, 0.02, 0.04])
ax.set_yticklabels(["0", "0.02", "0.04"])
ax_c1 = ax

ax = px_ax(1358, 693, 1651, 932)
density(ax, C_HUMAN_TS_X, C_HUMAN_TS_Y, TS_COLOR)
density(ax, C_HUMAN_TES_X, C_HUMAN_TES_Y, TES_COLOR)
ax.set_xlim(3.5, 40.75)
ax.set_ylim(-0.0049, 0.1009)
ax.set_yticks([0, 0.025, 0.05, 0.075, 0.1])
ax.set_yticklabels(["0", "0.025", "0.050", "0.075", "0.100"])
ax_c2 = ax

for ax, key in [(ax_c1, "HCMV"), (ax_c2, "Human")]:
    ts_med, tes_med = C_MEDIANS[key]
    ax.axvline(ts_med, color=TS_COLOR, ls=(0, (4, 3)), lw=1)
    ax.axvline(tes_med, color=TES_COLOR, ls=(0, (4, 3)), lw=1)
    ax.set_xticks([10, 20, 30, 40])
    ax.set_xlabel("")
    ax.set_ylabel("")
    ax.tick_params(axis="both", labelsize=12.7, length=3.5, width=0.8, color="#333333", labelcolor=TICK_GREY, left=True, bottom=True, pad=1)
    sns.despine(ax=ax, left=True, bottom=True)

strip(1006, 664, 1287, 693)
strip(1371, 664, 1651, 693)
label(1149, 678, "HCMV", 12.5, color="#1A1A1A")
label(1516, 678, "Human", 12.5, color="#1A1A1A")
label(929, 802, "Density", 13.5, rotation=90, family="DejaVu Sans")
label(1332, 974, "PAS distance from TES", 14.8)
for y0, y1, color, med in [(769, 793, TS_COLOR, 781), (827, 851, TES_COLOR, 839)]:
    box(1678, y0, 1703, y1, fc=color, alpha=0.45, ec="none")
    top.plot([1678, 1703], [y0, y0], color="black", lw=1)
    top.plot([1678, 1703], [y1, y1], color="black", lw=1)
    top.plot([1690.5, 1690.5], [y0 + 5, y1 - 1], color=color, lw=1, ls=(0, (4, 2)))
label(1712, 782, "Template\n switching", 14.5, ha="left", color="#111111")
label(1712, 837, "TES", 14.5, ha="left", color="#111111")

# ---- panel d
ROWS_HCMV = ["Sequel", "RSII", "cDNA", "Cap", "dRNA"]
ROWS_HUMAN = ["cDNA", "dRNA"]
hm_cmap = LinearSegmentedColormap.from_list("white_red", ["#FFFFFF", "#FFCFC1", "#FF9E81", "#FF6545", "#FF0000"])
HM_VMAX = 33
cax = px_ax(1785, 1165, 1812, 1293)
HM_PANELS = [
    (1017, 1106, 1374, 1268, [TES_SEQUEL, TES_RSII, TES_CDNA, TES_CAP, TES_DRNA], ROWS_HCMV, False),
    (1381.6, 1106, 1739.3, 1268, [TS_SEQUEL, TS_RSII, TS_CDNA, TS_CAP, TS_DRNA], ROWS_HCMV, True),
    (1017, 1277, 1374, 1345, [TES_H_CDNA, TES_H_DRNA], ROWS_HUMAN, False),
    (1381.6, 1277, 1739.3, 1345, [TS_H_CDNA, TS_H_DRNA], ROWS_HUMAN, False),
]
for left, upper, right, lower, rows, names, with_bar in HM_PANELS:
    ax = px_ax(left, upper, right, lower)
    ax.patch.set_visible(True)
    ax.set_facecolor("#EBEBEB")
    table = pd.DataFrame(rows, index=names, columns=HM_POS)
    sns.heatmap(table, ax=ax, cmap=hm_cmap, vmin=0, vmax=HM_VMAX, linewidths=0.5, linecolor="white", square=False,
                cbar=with_bar, cbar_ax=cax if with_bar else None, xticklabels=False, yticklabels=False)
    ax.set_xlim(-0.05, 21.05)
    ax.set_ylim(len(rows) + 0.1, -0.1)
    ax.set_xlabel("")
    ax.set_ylabel("")
    if lower > 1300:
        ax.set_xticks([HM_POS.index(t) + 0.5 for t in HM_TICKS])
        ax.set_xticklabels([str(t) for t in HM_TICKS])
        ax.tick_params(axis="x", labelsize=13, length=3.5, width=0.8, color="#333333", labelcolor="#222222", bottom=True, pad=6)
    else:
        ax.set_xticks([])
    ax.set_yticks([])

cax.set_yticks([0, 10, 20, 30])
cax.set_yticklabels(["0%", "10%", "20%", "30%"])
cax.tick_params(axis="y", labelsize=13, length=5, width=0.8, color="white", direction="in", right=True, left=True, labelcolor="#111111", pad=8)
for spine in cax.spines.values():
    spine.set_visible(False)

strip(1017, 1078, 1374, 1106)
strip(1381.6, 1078, 1739.3, 1106)
strip(1739.3, 1106, 1768, 1268)
strip(1739.3, 1277, 1768, 1345)
label(1195, 1091, "TES", 16.4, color="#1A1A1A")
label(1560, 1092, "Template switching", 17, color="#1A1A1A")
label(1753, 1187, "HCMV", 13.5, rotation=270, color="#1A1A1A", family="DejaVu Sans")
label(1753, 1311, "Human", 13.5, rotation=270, color="#1A1A1A", family="DejaVu Sans")
label(1394, 1045, "Proportion of reads ending at a position / coverage", 20, family="Liberation Sans")
for name, y in [("Sequel", 1121.7), ("RSII", 1152.7), ("cDNA", 1184), ("Cap", 1215), ("dRNA", 1247), ("cDNA", 1295), ("dRNA", 1326)]:
    label(978, y, name, 16.4, color="#111111")
label(927, 1137, "PacBio", 11.5, rotation=90, family="DejaVu Sans")
label(927, 1216.7, "MinION", 11.7, rotation=90, family="DejaVu Sans")
label(927, 1310, "MinION", 11.7, rotation=90, family="DejaVu Sans")
label(1390, 1390.7, "Distance from poly(A) site", 14)

# ---- panel e
HIST_COLORS = ["#FF7D75", "#A8AA00", "#10B0F5", "#EA6FF3", "#0DC081"]
HIST_COLS = [(148.5, 447), (469, 768), (789, 1087.6), (1108, 1406), (1427, 1726)]
HIST_ROWS = [
    (1509, 1951, (-0.0101, 0.21), 0.183, HIST_MEDIAN_TES,
     [(CAP_TES_FIRST, CAP_TES), (CDNA_TES_FIRST, CDNA_TES), (RSII_TES_FIRST, RSII_TES), (SEQUEL_TES_FIRST, SEQUEL_TES), (HUMAN_TES_FIRST, HUMAN_TES)]),
    (1957.5, 2399, (-0.0092, 0.2047), 0.174, HIST_MEDIAN_TS,
     [(CAP_TS_FIRST, CAP_TS), (CDNA_TS_FIRST, CDNA_TS), (RSII_TS_FIRST, RSII_TS), (SEQUEL_TS_FIRST, SEQUEL_TS), (HUMAN_TS_FIRST, HUMAN_TS)]),
]
for r, (upper, lower, ylim, text_y, medians, series) in enumerate(HIST_ROWS):
    for c, (left, right) in enumerate(HIST_COLS):
        ax = px_ax(left, upper, right, lower)
        first, values = series[c]
        bins_x = np.arange(first, first + len(values))
        edges = [first - 0.5 + k for k in range(len(values) + 1)]
        sns.histplot(x=bins_x, weights=values, bins=edges, color=HIST_COLORS[c],
                     alpha=1, edgecolor=HIST_COLORS[c], linewidth=0.2, ax=ax)
        ax.axvline(medians[c], color="black", lw=1.1)
        ax.text(medians[c] + 1.6, text_y, str(medians[c]), fontsize=14, color="#111111", va="center")
        ax.set_xlim(-4.5, 105)
        ax.set_ylim(*ylim)
        ax.set_xlabel("")
        ax.set_ylabel("")
        if c == 0:
            ax.set_yticks([0, 0.05, 0.1, 0.15, 0.2])
            ax.set_yticklabels(["0.00", "0.05", "0.10", "0.15", "0.20"])
            ax.tick_params(axis="y", labelsize=13.4, length=3.3, width=0.8, color="#333333", labelcolor="#222222", left=True, pad=3)
        else:
            ax.set_yticks([])
        if r == 1:
            ax.set_xticks([0, 25, 50, 75, 100])
            ax.tick_params(axis="x", labelsize=12.5, length=3.5, width=0.8, color="#333333", labelcolor=TICK_GREY, bottom=True, pad=1)
        else:
            ax.set_xticks([])
        sns.despine(ax=ax, left=True, bottom=True)

strip(148.5, 1453, 1406, 1482)
strip(1427, 1453, 1726, 1509)
for (left, right), name in zip(HIST_COLS, HIST_LABELS):
    strip(left, 1481.5, right, 1509)
    label((left + right) / 2, 1495, name, 14.8, color="#1A1A1A")
label(778, 1468, "HCMV", 14.8, color="#1A1A1A")
label(1572, 1468, "Human", 14.8, color="#1A1A1A")
strip(1726, 1509, 1753.6, 1951)
strip(1726, 1957.5, 1753.6, 2399)
label(1740, 1734, "TES", 15, rotation=270, color="#1A1A1A")
label(1740, 2178, "Template switching", 15.6, rotation=270, color="#1A1A1A")
label(76, 1946, "Frequency", 13.5, rotation=90, family="DejaVu Sans")
label(936, 2449, "poly(A) tail length", 16.5)

fig.savefig("out.png", dpi=100, facecolor="white")
